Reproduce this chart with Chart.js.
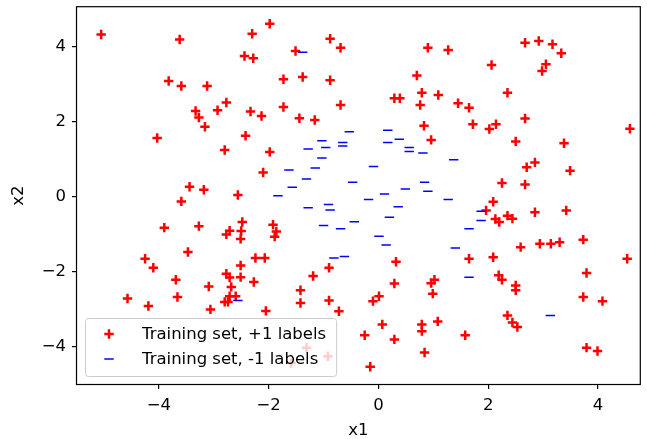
<!DOCTYPE html>
<html>
<head>
<meta charset="utf-8">
<script src="https://cdn.jsdelivr.net/npm/chart.js@4.4.1/dist/chart.umd.min.js"></script>
<style>
  html, body { margin: 0; padding: 0; background: #fff; }
</style>
</head>
<body>
<canvas id="chart" width="647" height="439"></canvas>
<script>
// points labelled +1 (red crosses)
const plusPoints = [
  [-5.05,4.33],[-3.62,4.20],[-3.82,3.09],[-3.59,2.96],[-3.12,2.96],[-3.33,2.29],[-3.27,2.12],[-3.16,1.87],[-2.93,2.31],
  [-1.98,4.62],[-2.30,4.35],[-0.88,4.22],[-0.69,3.98],[-1.51,3.89],[-2.44,3.76],[-2.28,3.70],[-1.73,3.14],[-1.38,3.20],
  [-0.88,3.11],[-2.77,2.52],[-2.33,2.28],[-2.13,2.16],[-1.73,2.40],[-0.69,2.45],[-1.44,2.10],[-1.16,2.05],[-2.42,1.63],
  [0.90,3.98],[1.27,3.92],[2.06,3.52],[0.70,3.24],[0.29,2.63],[0.39,2.63],[0.79,2.78],[0.76,2.45],[1.09,2.72],
  [1.45,2.50],[1.65,2.38],[2.35,2.78],[0.83,1.90],[1.72,1.94],[2.02,1.81],[2.14,1.94],
  [2.67,4.11],[2.92,4.16],[3.17,4.07],[3.33,3.83],[3.05,3.54],[2.98,3.36],[2.67,2.09],[4.58,1.82],
  [-4.03,1.57],[-3.44,0.27],[-3.18,0.19],[-3.59,-0.12],[-3.90,-0.82],[-3.27,-0.78],[-3.47,-1.47],[-4.25,-1.65],
  [-2.80,1.25],[-1.98,1.20],[-2.10,0.65],[-2.56,0.05],[-2.48,-0.67],[-2.71,-0.90],[-2.77,-1.00],[-2.50,-0.91],
  [-2.51,-1.12],[-1.92,-0.74],[-1.86,-0.92],[-1.89,-1.06],[-2.24,-1.63],[-2.07,-1.63],
  [-4.10,-1.89],[-3.69,-2.21],[-3.09,-2.39],[-4.57,-2.71],[-4.19,-2.91],[-3.66,-2.67],[-3.06,-3.00],
  [-2.51,-1.83],[-2.77,-2.05],[-2.71,-2.15],[-2.51,-2.14],[-2.68,-2.40],[-2.27,-2.27],[-2.71,-2.65],[-2.60,-2.65],
  [-2.80,-2.80],[-2.74,-2.80],[-2.05,-3.04],[-1.42,-2.49],[-1.42,-2.83],[-1.19,-2.11],[-0.90,-1.89],[-0.90,-2.76],
  [-0.72,-3.05],[-1.31,-4.02],[-0.92,-4.25],[-1.59,-4.43],
  [0.32,-1.73],[1.65,-1.65],[2.09,-1.61],[0.29,-2.31],[0.96,-2.30],[1.02,-2.21],[0.99,-2.58],[-0.10,-2.78],
  [0.01,-2.65],[2.19,-2.09],[2.25,-2.21],[0.07,-3.40],[-0.25,-3.69],[0.29,-3.80],[0.79,-3.40],[0.79,-3.58],
  [1.08,-3.32],[1.58,-3.69],[0.84,-4.15],[-0.15,-4.53],[2.35,-3.16],
  [2.50,-2.36],[2.50,-2.49],[2.44,-3.35],[2.53,-3.47],[3.79,-2.03],[3.73,-2.67],[4.08,-2.78],[3.79,-4.02],
  [3.99,-4.11],[4.53,-1.65],
  [0.96,1.52],[2.25,0.37],[2.09,-0.13],[1.96,-0.36],[2.13,-0.59],[2.20,-0.67],
  [2.50,1.48],[3.38,1.43],[2.70,0.79],[2.85,0.92],[3.49,0.70],[2.67,0.33],[2.35,-0.50],[2.44,-0.58],
  [2.85,-0.41],[3.42,-0.36],[2.59,-1.34],[2.94,-1.25],[3.14,-1.25],[3.30,-1.21],[3.73,-1.14]
];

// points labelled -1 (blue dashes)
const minusPoints = [
  [-1.38,3.86],[-0.53,1.74],[0.17,1.78],
  [0.38,1.54],[0.17,1.45],[0.56,1.32],[0.56,1.21],[0.81,1.17],[1.37,0.99],[-0.09,0.81],[0.84,0.39],
  [0.49,0.21],[0.90,0.15],[0.11,0.08],[-0.18,-0.07],[1.27,-0.07],[0.36,-0.26],[0.20,-0.54],[1.87,-0.38],
  [1.87,-0.63],[1.65,-0.85],[0.01,-1.05],[0.14,-1.28],[1.40,-1.36],
  [-1.03,1.50],[-0.65,1.45],[-0.65,1.36],[-0.96,1.32],[-1.28,1.28],[-1.03,1.04],[-1.15,0.77],[-1.63,0.72],
  [-1.31,0.48],[-0.47,0.39],[-1.57,0.26],[-1.83,0.03],[-1.28,-0.29],[-0.91,-0.20],[-0.88,-0.35],[-0.44,-0.66],
  [-1.00,-0.76],[-0.69,-0.85],[-0.81,-1.63],[-0.62,-1.59],
  [-2.56,-2.76],[1.65,-2.14],[3.13,-3.16]
];

const seriesLabels = ["Training set, +1 labels", "Training set, -1 labels"];
const xTicks = [-4, -2, 0, 2, 4];
const yTicks = [-4, -2, 0, 2, 4];

const FONT = "DejaVu Sans";
const FSIZE = 16.5;
Chart.defaults.font.family = FONT;
Chart.defaults.font.size = FSIZE;
Chart.defaults.color = "#000";

const toXY = (pts) => pts.map(p => ({ x: p[0], y: p[1] }));
const fmt = (v) => (v < 0 ? "\u2212" + Math.abs(v) : String(v));

// little cross / dash used by the legend box
function drawMarker(ctx, style, color, x, y) {
  ctx.save();
  ctx.strokeStyle = color;
  ctx.lineWidth = style === "cross" ? 2.5 : 1.5;
  ctx.beginPath();
  ctx.moveTo(x - 4.7, y); ctx.lineTo(x + 4.7, y);
  if (style === "cross") {
    ctx.moveTo(x, y - 4.7); ctx.lineTo(x, y + 4.7);
  }
  ctx.stroke();
  ctx.restore();
}

// frame on all four sides + legend in lower left corner
const frameAndLegend = {
  id: "frameAndLegend",
  afterDraw(chart) {
    const ctx = chart.ctx;
    const a = chart.chartArea;
    ctx.save();
    ctx.strokeStyle = "#000";
    ctx.lineWidth = 1.2;
    ctx.strokeRect(a.left - 0.5, a.top - 0.5, a.right - a.left + 1, a.bottom - a.top + 1);

    ctx.font = FSIZE + "px '" + FONT + "'";
    const ds = chart.data.datasets;
    let tw = 0;
    ds.forEach(d => { tw = Math.max(tw, ctx.measureText(d.label).width); });
    const bx = a.left + 8, bh = 58, bw = 57 + tw + 10;
    const by = a.bottom - 8 - bh;
    ctx.beginPath();
    ctx.roundRect(bx + 0.5, by + 0.5, bw, bh, 3);
    ctx.fillStyle = "rgba(255,255,255,0.8)";
    ctx.fill();
    ctx.strokeStyle = "#cccccc";
    ctx.lineWidth = 1;
    ctx.stroke();

    ctx.textBaseline = "middle";
    ctx.textAlign = "left";
    ds.forEach((d, i) => {
      const ry = by + 16 + i * 25;
      drawMarker(ctx, d.pointStyle, d.borderColor, bx + 24, ry);
      ctx.fillStyle = "#000";
      ctx.fillText(d.label, bx + 57, ry + 1);
    });
    ctx.restore();
  }
};

new Chart(document.getElementById("chart"), {
  type: "scatter",
  data: {
    datasets: [
      {
        label: seriesLabels[0],
        data: toXY(plusPoints),
        pointStyle: "cross",
        pointRadius: 4.7,
        pointBorderWidth: 2.5,
        borderColor: "#ff0000",
        backgroundColor: "#ff0000",
        order: 1
      },
      {
        label: seriesLabels[1],
        data: toXY(minusPoints),
        pointStyle: "line",
        pointRadius: 4.7,
        pointBorderWidth: 1.5,
        borderColor: "#0000ff",
        backgroundColor: "#0000ff",
        order: 0
      }
    ]
  },
  options: {
    responsive: false,
    animation: false,
    events: [],
    layout: { padding: { top: 6, right: 6, left: 0, bottom: 0 } },
    plugins: {
      legend: { display: false },
      tooltip: { enabled: false }
    },
    scales: {
      x: {
        type: "linear",
        min: -5.49,
        max: 4.76,
        afterBuildTicks: (s) => { s.ticks = xTicks.map(v => ({ value: v })); },
        afterFit: (s) => { s.height = 55; s.paddingLeft = 0; s.paddingRight = 0; },
        border: { display: false },
        grid: { drawOnChartArea: false, drawTicks: true, tickLength: 5, color: "#000", lineWidth: 1.2 },
        ticks: { padding: 7, maxRotation: 0, color: "#000", callback: (v) => fmt(v) },
        title: { display: true, text: "x1", color: "#000", font: { size: FSIZE, lineHeight: 1 }, padding: { top: 0, bottom: 0 } }
      },
      y: {
        type: "linear",
        min: -4.99,
        max: 5.06,
        afterBuildTicks: (s) => { s.ticks = yTicks.map(v => ({ value: v })); },
        afterFit: (s) => { s.width = 77; s.paddingTop = 0; s.paddingBottom = 0; },
        border: { display: false },
        grid: { drawOnChartArea: false, drawTicks: true, tickLength: 5, color: "#000", lineWidth: 1.2 },
        ticks: { padding: 6, color: "#000", callback: (v) => fmt(v) },
        title: { display: true, text: "x2", color: "#000", font: { size: FSIZE, lineHeight: 1 }, padding: { top: 10, bottom: 0 } }
      }
    }
  },
  plugins: [frameAndLegend]
});
</script>
</body>
</html>
